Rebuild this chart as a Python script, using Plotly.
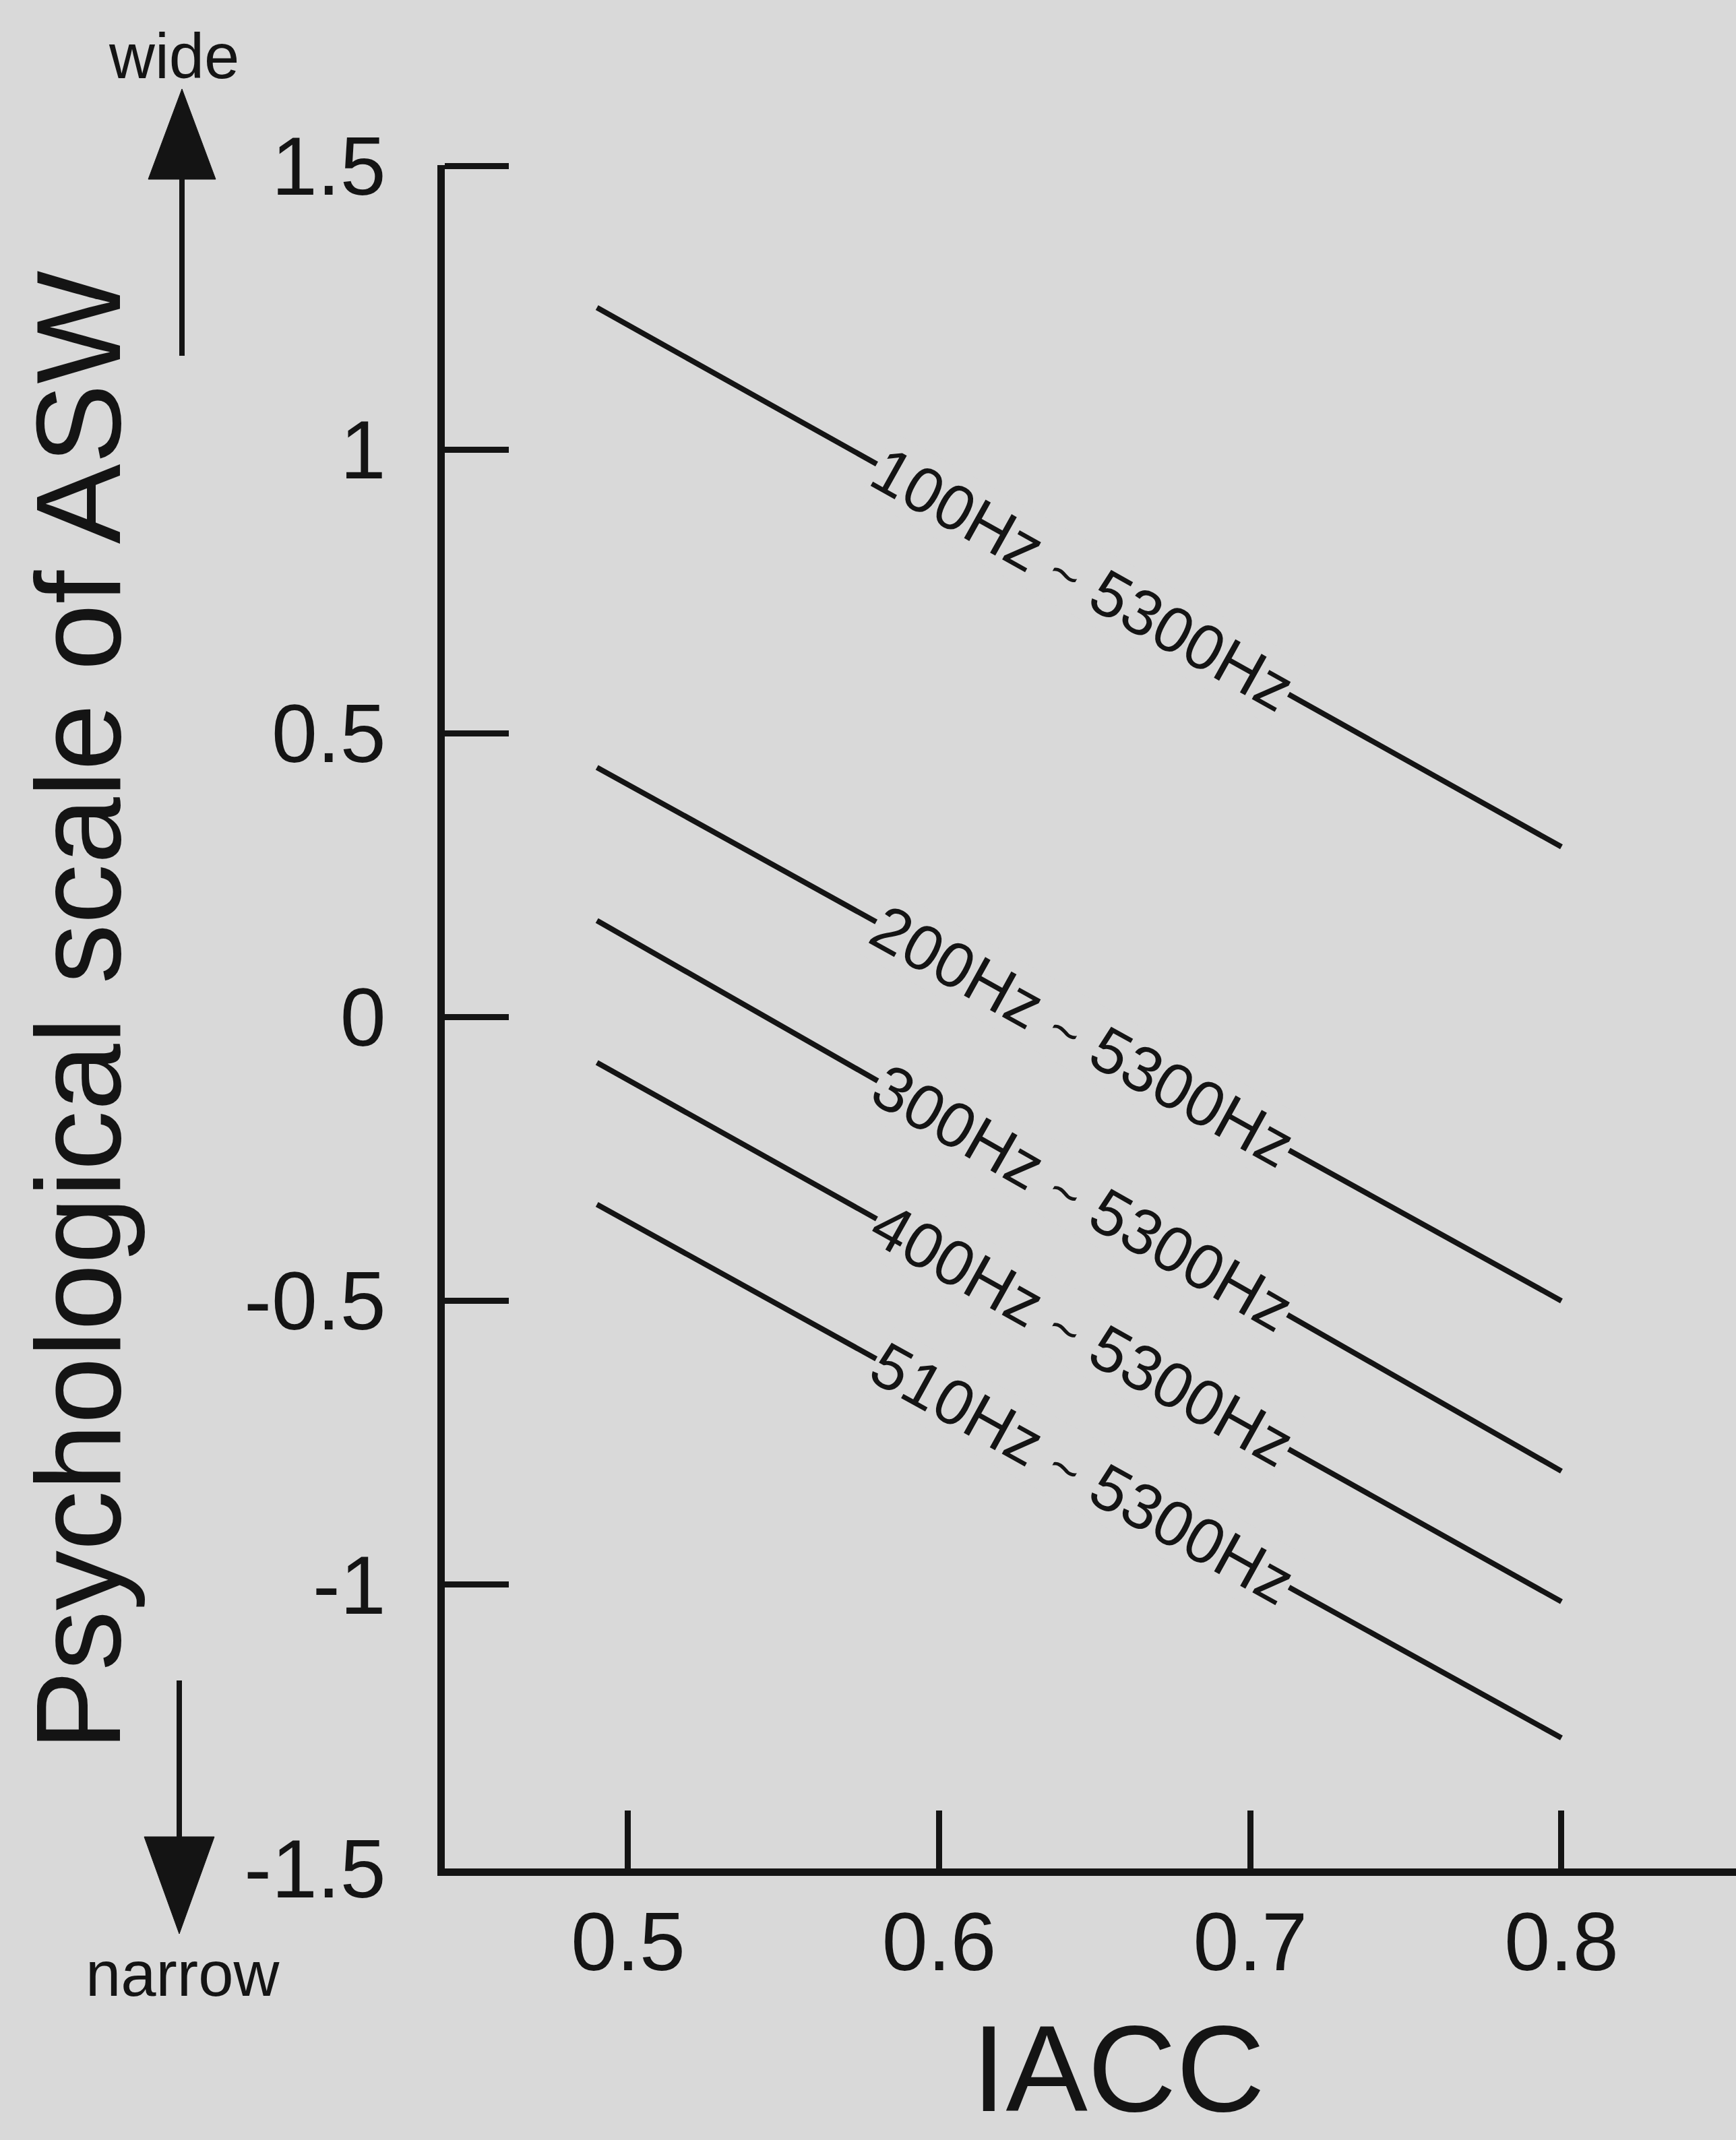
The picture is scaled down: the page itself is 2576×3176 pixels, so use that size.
import math
import plotly.graph_objects as go

# ---- data -------------------------------------------------------------
band_low = ["100Hz", "200Hz", "300Hz", "400Hz", "510Hz"]
band_high = ["5300Hz", "5300Hz", "5300Hz", "5300Hz", "5300Hz"]
iacc_start = [0.49, 0.49, 0.49, 0.49, 0.49]
iacc_end = [0.80, 0.80, 0.80, 0.80, 0.80]
asw_start = [1.25, 0.44, 0.17, -0.08, -0.33]
asw_end = [0.30, -0.50, -0.80, -1.03, -1.27]

x_ticks = [0.5, 0.6, 0.7, 0.8]
x_ticktext = ["0.5", "0.6", "0.7", "0.8"]
y_ticks = [-1.5, -1.0, -0.5, 0.0, 0.5, 1.0, 1.5]
y_ticktext = ["-1.5", "-1", "-0.5", "0", "0.5", "1", "1.5"]
label_iacc = 0.646  # where each band label sits along its line

# ---- page geometry ----------------------------------------------------
W, H = 2576, 3176
M_L, M_R, M_T, M_B = 660, 0, 245, 403
PW, PH = W - M_L - M_R, H - M_T - M_B
X_RANGE = [0.4411, 0.8561]
Y_RANGE = [-1.5, 1.5012]

BG = "#d9d9d9"
INK = "#141414"
FONT = "Liberation Sans, Arial, Helvetica, sans-serif"
NBSP = "\u00a0"


def paper_x(px):
    return (px - M_L) / PW


def paper_y(py):
    return (H - M_B - py) / PH


fig = go.Figure()

for i in range(len(band_low)):
    fig.add_trace(go.Scatter(
        x=[iacc_start[i], iacc_end[i]],
        y=[asw_start[i], asw_end[i]],
        mode="lines",
        line=dict(color=INK, width=8),
        showlegend=False,
        hoverinfo="skip",
    ))

# labels written along each line, masking the line behind them
px_per_x = PW / (X_RANGE[1] - X_RANGE[0])
px_per_y = PH / (Y_RANGE[1] - Y_RANGE[0])
for i in range(len(band_low)):
    slope = (asw_end[i] - asw_start[i]) / (iacc_end[i] - iacc_start[i])
    yc = asw_start[i] + slope * (label_iacc - iacc_start[i])
    angle = math.degrees(math.atan(-slope * px_per_y / px_per_x))
    text = (f"{band_low[i]}{NBSP}<span style='font-size:76px'>~</span>{NBSP}"
            f"{band_high[i]}")
    fig.add_annotation(
        x=label_iacc, y=yc, xref="x", yref="y",
        text=text, showarrow=False, textangle=angle,
        font=dict(family=FONT, size=95, color=INK),
        bgcolor=BG, borderpad=0,
        xanchor="center", yanchor="middle",
    )

# axis titles and direction words
fig.add_annotation(
    x=paper_x(116), y=paper_y(1500), xref="paper", yref="paper",
    text="Psychological scale of ASW", showarrow=False, textangle=-90,
    font=dict(family=FONT, size=178, color=INK),
    xanchor="center", yanchor="middle",
)
fig.add_annotation(
    x=paper_x(1659), y=paper_y(3070), xref="paper", yref="paper",
    text="IACC", showarrow=False,
    font=dict(family=FONT, size=182, color=INK),
    xanchor="center", yanchor="middle",
)
fig.add_annotation(
    x=paper_x(258), y=paper_y(84), xref="paper", yref="paper",
    text="wide", showarrow=False,
    font=dict(family=FONT, size=94, color=INK),
    xanchor="center", yanchor="middle",
)
fig.add_annotation(
    x=paper_x(271), y=paper_y(2929), xref="paper", yref="paper",
    text="narrow", showarrow=False,
    font=dict(family=FONT, size=94, color=INK),
    xanchor="center", yanchor="middle",
)


# "wide" / "narrow" arrows
def arrow(shaft_x, shaft_from, shaft_to, tip_y, half_w):
    fig.add_shape(type="line", xref="paper", yref="paper",
                  x0=paper_x(shaft_x), x1=paper_x(shaft_x),
                  y0=paper_y(shaft_from), y1=paper_y(shaft_to),
                  line=dict(color=INK, width=8))
    path = (f"M {paper_x(shaft_x)},{paper_y(tip_y)} "
            f"L {paper_x(shaft_x - half_w)},{paper_y(shaft_to)} "
            f"L {paper_x(shaft_x + half_w)},{paper_y(shaft_to)} Z")
    fig.add_shape(type="path", xref="paper", yref="paper", path=path,
                  fillcolor=INK, line=dict(color=INK, width=1))


arrow(270, 528, 266, 132, 50)
arrow(266, 2494, 2726, 2870, 52)

fig.update_layout(
    width=W, height=H,
    margin=dict(l=M_L, r=M_R, t=M_T, b=M_B, pad=0),
    paper_bgcolor=BG, plot_bgcolor=BG,
    showlegend=False,
    font=dict(family=FONT, color=INK),
    xaxis=dict(
        range=X_RANGE, tickvals=x_ticks, ticktext=x_ticktext,
        showline=True, linecolor=INK, linewidth=11,
        ticks="inside", ticklen=86, tickwidth=9, tickcolor=INK,
        tickfont=dict(family=FONT, size=122, color=INK),
        ticklabelstandoff=-6,
        showgrid=False, zeroline=False, fixedrange=True,
    ),
    yaxis=dict(
        range=Y_RANGE, tickvals=y_ticks, ticktext=y_ticktext,
        showline=True, linecolor=INK, linewidth=11,
        ticks="inside", ticklen=95, tickwidth=9, tickcolor=INK,
        tickfont=dict(family=FONT, size=122, color=INK),
        ticklabelstandoff=52,
        showgrid=False, zeroline=False, fixedrange=True,
    ),
)

fig.write_html("out.html", config={"displayModeBar": False})
